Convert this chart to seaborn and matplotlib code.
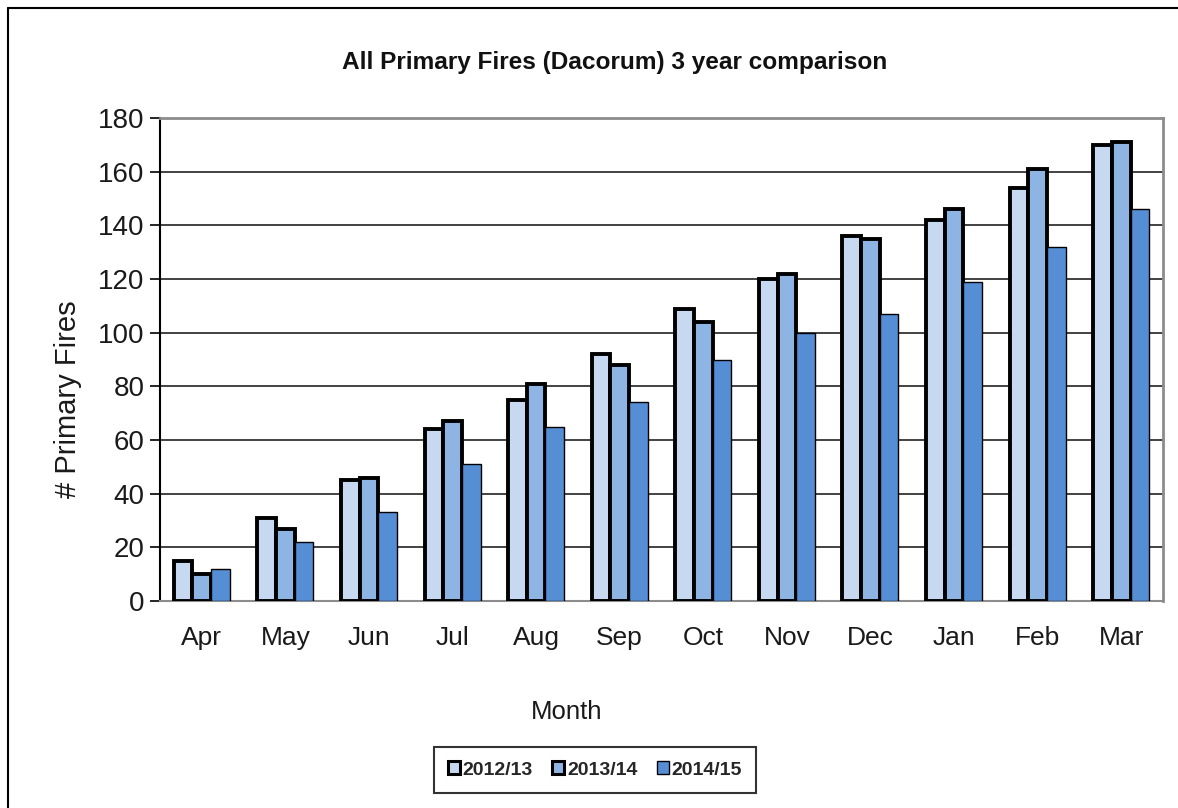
import numpy as np
import pandas as pd
import matplotlib
matplotlib.use("Agg")
import matplotlib.pyplot as plt
import seaborn as sns
from matplotlib.lines import Line2D
from matplotlib.patches import Patch

# ── Data ───────────────────────────────────────────────────────────────────────
months = ["Apr", "May", "Jun", "Jul", "Aug", "Sep",
          "Oct", "Nov", "Dec", "Jan", "Feb", "Mar"]
years = ["2012/13", "2013/14", "2014/15"]
fires_2012 = [15, 31, 45, 64, 75, 92, 109, 120, 136, 142, 154, 170]
fires_2013 = [10, 27, 46, 67, 81, 88, 104, 122, 135, 146, 161, 171]
fires_2014 = [12, 22, 33, 51, 65, 74, 90, 100, 107, 119, 132, 146]

# ── Palette ────────────────────────────────────────────────────────────────────
LIGHT = "#C6D9F1"
MID   = "#8DB4E2"
DARK  = "#558ED5"
GRID  = "#222222"
GREY  = "#8C8C8C"
TEXT  = "#1a1a1a"

sns.set_theme(style="white")
plt.rcParams["font.family"] = ["Liberation Sans", "DejaVu Sans"]

df = pd.DataFrame({
    "Month": months * 3,
    "Year": [years[0]] * 12 + [years[1]] * 12 + [years[2]] * 12,
    "Fires": fires_2012 + fires_2013 + fires_2014,
})

fig = plt.figure(figsize=(11.78, 8.08), dpi=100, facecolor="white")
ax = fig.add_axes([160 / 1178, 207 / 808, 1003 / 1178, 483 / 808])

sns.barplot(data=df, x="Month", y="Fires", hue="Year", order=months,
            hue_order=years, palette=[LIGHT, MID, DARK], width=0.67,
            saturation=1, ax=ax, legend=False, zorder=3)

# heavy outline on the first two series, thin on the last
for cont, lw in zip(ax.containers, [2.8, 2.8, 1.0]):
    for bar in cont:
        bar.set_edgecolor("black")
        bar.set_linewidth(lw)

ax.set_ylim(0, 180)
ax.set_xlim(-0.5, len(months) - 0.5)
ax.set_yticks(np.arange(0, 181, 20))
ax.yaxis.grid(True, color=GRID, linewidth=1.2, zorder=0)
ax.set_axisbelow(True)

# category boundary ticks on x
ax.set_xticks(np.arange(-0.5, len(months), 1.0), minor=True)
ax.tick_params(axis="x", which="major", length=0, pad=18, labelsize=19,
               labelcolor=TEXT)
ax.tick_params(axis="x", which="minor", length=8, width=1.2, color="black",
               direction="out")
ax.tick_params(axis="y", length=7, width=1.2, color="black", direction="out",
               pad=4, left=True, labelsize=20, labelcolor=TEXT)

for side in ["top", "right"]:
    ax.spines[side].set_color(GREY)
    ax.spines[side].set_linewidth(2)
ax.spines["left"].set_color("black")
ax.spines["left"].set_linewidth(1.5)
ax.spines["bottom"].set_color(GREY)
ax.spines["bottom"].set_linewidth(1.5)

ax.set_xlabel("")
ax.set_ylabel("")
fig.text(567 / 1178, 1 - 712 / 808, "Month", ha="center", va="center",
         fontsize=18.5, color=TEXT)
fig.text(68 / 1178, 1 - 399 / 808, "# Primary Fires", ha="center", va="center",
         rotation=90, fontsize=21, color=TEXT)

fig.text(615 / 1178, 1 - 63 / 808, "All Primary Fires (Dacorum) 3 year comparison",
         ha="center", va="center", fontsize=17.6, fontweight="bold",
         color="#111111")

handles = [Patch(facecolor=c, edgecolor="black", linewidth=2.2 if i < 2 else 1)
           for i, c in enumerate([LIGHT, MID, DARK])]
leg = fig.legend(handles, years, loc="center",
                 bbox_to_anchor=(595 / 1178, 1 - 770 / 808),
                 ncol=3, frameon=True, fancybox=False, edgecolor="black",
                 prop={"weight": "bold", "size": 14},
                 handlelength=0.6, handleheight=0.6, handletextpad=0.15,
                 columnspacing=1.0, borderpad=0.75, borderaxespad=0)
leg.get_frame().set_linewidth(1.5)

# outer chart frame (cropped at right and bottom)
fig.add_artist(Line2D([8 / 1178, 8 / 1178], [0, 1 - 8 / 808], color="black",
                      linewidth=1.5, transform=fig.transFigure))
fig.add_artist(Line2D([8 / 1178, 1], [1 - 8 / 808, 1 - 8 / 808], color="black",
                      linewidth=1.5, transform=fig.transFigure))

fig.savefig("out.png", dpi=100, facecolor="white")
